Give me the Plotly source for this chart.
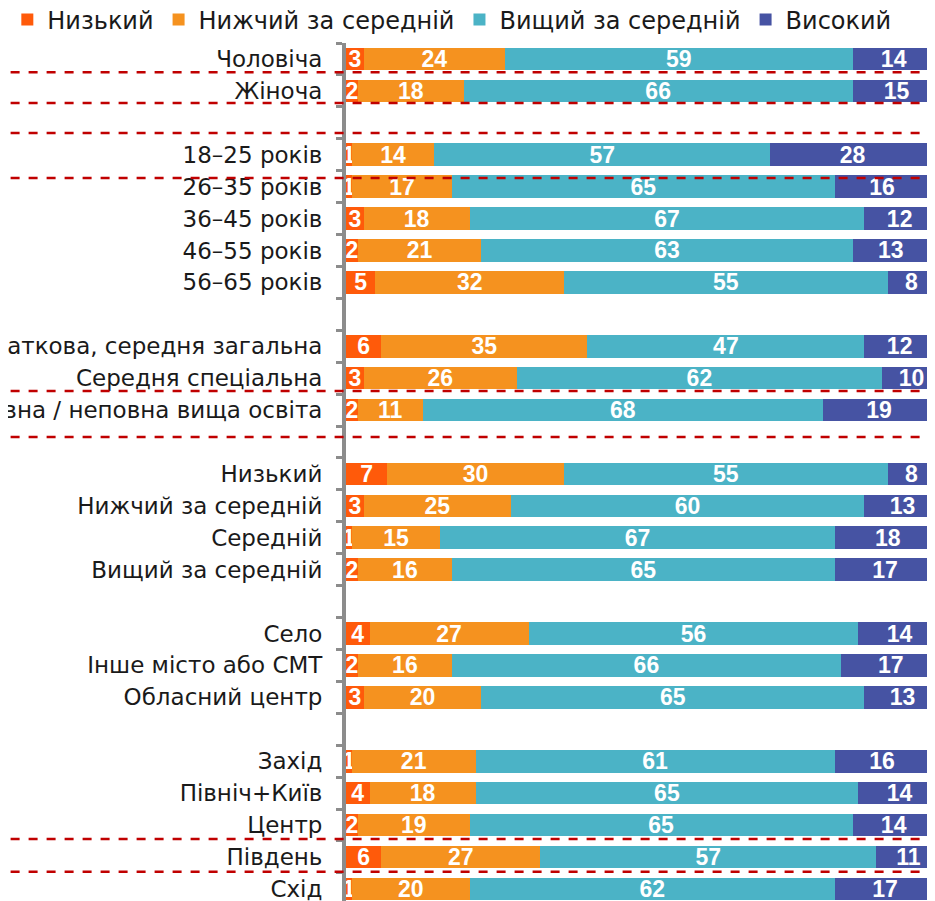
import plotly.graph_objects as go

# рядки (порожні рядки — розриви між групами)
categories = [
    "Чоловіча", "Жіноча", " ",
    "18–25 років", "26–35 років", "36–45 років", "46–55 років", "56–65 років", "  ",
    "Початкова, середня загальна", "Середня спеціальна", "Повна / неповна вища освіта", "   ",
    "Низький", "Нижчий за середній", "Середній", "Вищий за середній", "    ",
    "Село", "Інше місто або СМТ", "Обласний центр", "     ",
    "Захід", "Північ+Київ", "Центр", "Південь", "Схід",
]

low = [3, 2, None, 1, 1, 3, 2, 5, None, 6, 3, 2, None, 7, 3, 1, 2, None, 4, 2, 3, None, 1, 4, 2, 6, 1]
below_avg = [24, 18, None, 14, 17, 18, 21, 32, None, 35, 26, 11, None, 30, 25, 15, 16, None, 27, 16, 20, None, 21, 18, 19, 27, 20]
above_avg = [59, 66, None, 57, 65, 67, 63, 55, None, 47, 62, 68, None, 55, 60, 67, 65, None, 56, 66, 65, None, 61, 65, 65, 57, 62]
high = [14, 15, None, 28, 16, 12, 13, 8, None, 12, 10, 19, None, 8, 13, 18, 17, None, 14, 17, 13, None, 16, 14, 14, 11, 17]

series = [
    ("Низький", low, "#FF5A0A"),
    ("Нижчий за середній", below_avg, "#F5921F"),
    ("Вищий за середній", above_avg, "#4BB3C6"),
    ("Високий", high, "#4653A3"),
]

# положення червоних пунктирних ліній (в індексах рядків)
dash_rows = [0.42, 1.38, 2.32, 3.73, 10.4, 11.84, 24.44, 25.46]

fig = go.Figure()
for name, vals, color in series:
    fig.add_trace(
        go.Bar(
            y=categories,
            x=vals,
            name=name,
            orientation="h",
            marker=dict(color=color, line=dict(width=0)),
            width=0.71,
            text=[("" if v is None else str(v)) for v in vals],
            textposition="inside",
            insidetextanchor="middle",
            textangle=0,
            constraintext="none",
            textfont=dict(family="Liberation Sans Narrow, Liberation Sans, sans-serif",
                          size=23, color="white", weight="bold"),
            hoverinfo="skip",
        )
    )

for r in dash_rows:
    fig.add_shape(
        type="line", xref="paper", yref="y",
        x0=-0.6, x1=1.0, y0=r, y1=r,
        line=dict(color="#C00000", width=2.5, dash="dash"),
        layer="above",
    )

# сторінка має відступ 8px, тому фігура трохи менша за вікно
fig.update_layout(
    barmode="stack",
    width=927,
    height=893,
    margin=dict(l=338, r=0, t=35, b=0, autoexpand=False),
    paper_bgcolor="white",
    plot_bgcolor="white",
    font=dict(family="DejaVu Sans, sans-serif", size=23, color="#1a1a1a"),
    showlegend=True,
    legend=dict(
        orientation="h",
        traceorder="normal",
        x=-0.575, y=1.027, xanchor="left", yanchor="middle",
        font=dict(size=24, color="#1a1a1a"),
        itemwidth=30,
        tracegroupgap=0,
    ),
    xaxis=dict(
        range=[0, 100],
        showgrid=False,
        zeroline=False,
        showticklabels=False,
        fixedrange=True,
    ),
    yaxis=dict(
        type="category",
        categoryorder="array",
        categoryarray=categories,
        range=[26.38, -0.5],
        showgrid=False,
        zeroline=False,
        showline=True,
        linecolor="#8C8C8C",
        linewidth=4,
        ticks="outside",
        tickson="boundaries",
        ticklen=6,
        tickwidth=3,
        tickcolor="#8C8C8C",
        ticklabelstandoff=15,
        tickfont=dict(size=23, color="#1a1a1a"),
    ),
)

fig.write_html("out.html")
